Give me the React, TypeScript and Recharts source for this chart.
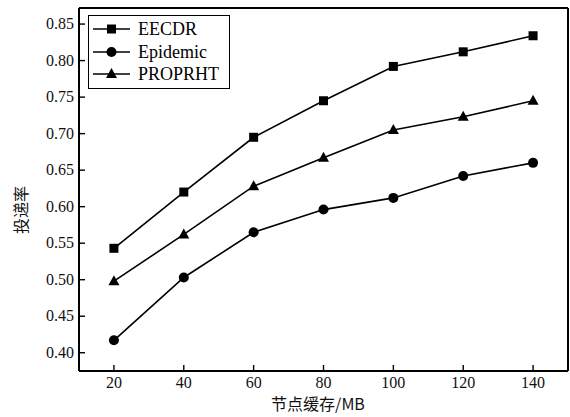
import React from 'react';
import { LineChart, Line, XAxis, YAxis, Legend, ReferenceLine } from 'recharts';

const buffers = [20, 40, 60, 80, 100, 120, 140];
const eecdr = [0.543, 0.620, 0.695, 0.745, 0.792, 0.812, 0.834];
const epidemic = [0.417, 0.503, 0.565, 0.596, 0.612, 0.642, 0.660];
const proprht = [0.498, 0.562, 0.628, 0.667, 0.705, 0.723, 0.745];
const yTicks = [0.4, 0.45, 0.5, 0.55, 0.6, 0.65, 0.7, 0.75, 0.8, 0.85];

const xDomain = [10, 150];
const yDomain = [0.375, 0.872];

const data = buffers.map((b, i) => ({
  buffer: b,
  EECDR: eecdr[i],
  Epidemic: epidemic[i],
  PROPRHT: proprht[i],
}));

const serif = 'Liberation Serif';
const cjk = 'Noto Sans CJK SC';

const SquareDot = (props: any) => {
  const { cx, cy } = props;
  if (cx == null || cy == null) return null;
  return <rect x={cx - 4.5} y={cy - 4.5} width={9} height={9} fill="#000" />;
};

const CircleDot = (props: any) => {
  const { cx, cy } = props;
  if (cx == null || cy == null) return null;
  return <circle cx={cx} cy={cy} r={5} fill="#000" />;
};

const TriangleDot = (props: any) => {
  const { cx, cy } = props;
  if (cx == null || cy == null) return null;
  return <polygon points={`${cx},${cy - 6} ${cx - 5.5},${cy + 4} ${cx + 5.5},${cy + 4}`} fill="#000" />;
};

// inward ticks drawn by hand; recharts hands us the label spot (axis + tickSize 6 + margin 2)
const renderXTick = (props: any) => {
  const { x, y, payload } = props;
  const axisY = y - 8;
  return (
    <g key={`xt-${payload.value}`}>
      <line x1={x} y1={axisY} x2={x} y2={axisY - 6} stroke="#000" strokeWidth={1.4} />
      <text x={x} y={axisY + 17} textAnchor="middle" fontFamily={serif} fontSize={16} fill="#111">
        {payload.value}
      </text>
    </g>
  );
};

const renderYTick = (props: any) => {
  const { x, y, payload } = props;
  const axisX = x + 8;
  return (
    <g key={`yt-${payload.value}`}>
      <line x1={axisX} y1={y} x2={axisX + 6} y2={y} stroke="#000" strokeWidth={1.4} />
      <text x={axisX - 5} y={y + 5} textAnchor="end" fontFamily={serif} fontSize={16} fill="#111">
        {Number(payload.value).toFixed(2)}
      </text>
    </g>
  );
};

const legendItems = [
  { name: 'EECDR', marker: 'square' },
  { name: 'Epidemic', marker: 'circle' },
  { name: 'PROPRHT', marker: 'triangle' },
];

const LegendBox = () => (
  <div
    style={{
      border: '1.5px solid #000',
      background: '#fff',
      width: 142,
      padding: '2px 0',
      boxSizing: 'border-box',
    }}
  >
    {legendItems.map(item => (
      <div key={item.name} style={{ display: 'flex', alignItems: 'center', height: 22.5 }}>
        <svg width={46} height={16} style={{ marginLeft: 3 }}>
          <line x1={1} y1={8} x2={38} y2={8} stroke="#000" strokeWidth={1.5} />
          {item.marker === 'square' && <rect x={15} y={3.5} width={9} height={9} fill="#000" />}
          {item.marker === 'circle' && <circle cx={19.5} cy={8} r={5} fill="#000" />}
          {item.marker === 'triangle' && <polygon points="19.5,2 14,12 25,12" fill="#000" />}
        </svg>
        <span style={{ fontFamily: serif, fontSize: 18, color: '#000', lineHeight: 1 }}>{item.name}</span>
      </div>
    ))}
  </div>
);

export default function App() {
  return (
    <div style={{ position: 'absolute', left: 0, top: 0, width: 570, height: 417, background: '#fff' }}>
      <LineChart width={570} height={417} data={data} margin={{ top: 8, right: 2, left: 0, bottom: 0 }}>
        <XAxis
          dataKey="buffer"
          type="number"
          domain={xDomain}
          ticks={buffers}
          axisLine={{ stroke: '#000', strokeWidth: 2 }}
          tickLine={false}
          height={46}
          tick={renderXTick}
          label={() => (
            <text x={318} y={410} textAnchor="middle" fontFamily={cjk} fontSize={16} fill="#111">
              节点缓存/MB
            </text>
          )}
        />
        <YAxis
          type="number"
          domain={yDomain}
          ticks={yTicks}
          allowDataOverflow
          width={79}
          axisLine={{ stroke: '#000', strokeWidth: 2 }}
          tickLine={false}
          tick={renderYTick}
          label={() => (
            <text
              x={23}
              y={210}
              textAnchor="middle"
              dominantBaseline="middle"
              transform="rotate(-90 23 210)"
              fontFamily={cjk}
              fontSize={16}
              fill="#111"
            >
              投递率
            </text>
          )}
        />
        {/* top and right edges of the frame */}
        <ReferenceLine y={yDomain[1]} stroke="#000" strokeWidth={2} />
        <ReferenceLine x={xDomain[1]} stroke="#000" strokeWidth={2} />
        <Legend
          layout="vertical"
          align="center"
          verticalAlign="middle"
          content={() => <LegendBox />}
          wrapperStyle={{ left: 88, top: 15, width: 142 }}
        />
        <Line dataKey="EECDR" stroke="#000" strokeWidth={1.6} dot={<SquareDot />} isAnimationActive={false} />
        <Line dataKey="Epidemic" stroke="#000" strokeWidth={1.6} dot={<CircleDot />} isAnimationActive={false} />
        <Line dataKey="PROPRHT" stroke="#000" strokeWidth={1.6} dot={<TriangleDot />} isAnimationActive={false} />
      </LineChart>
    </div>
  );
}
